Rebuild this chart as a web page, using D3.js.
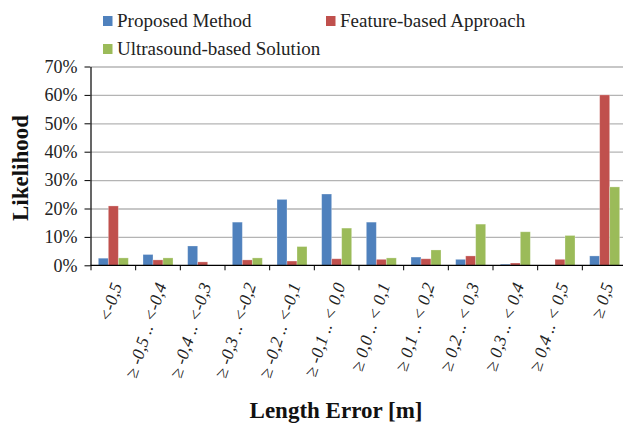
<!DOCTYPE html>
<html>
<head>
<meta charset="utf-8">
<script src="https://cdn.jsdelivr.net/npm/d3@7"></script>
<style>
  html, body { margin: 0; padding: 0; background: #fff; }
  svg text { font-family: "Liberation Serif", "DejaVu Serif", serif; }
</style>
</head>
<body>
<svg id="chart" width="623" height="425"></svg>
<script>
const FONT = "Liberation Serif, DejaVu Serif, serif";

// Error bins (metres)
const categories = [
  "<-0,5",
  "≥ -0,5 .. <-0,4",
  "≥ -0,4 .. <-0,3",
  "≥ -0,3 .. <-0,2",
  "≥ -0,2 .. <-0,1",
  "≥ -0,1 .. < 0,0",
  "≥ 0,0 .. < 0,1",
  "≥ 0,1 .. < 0,2",
  "≥ 0,2 .. < 0,3",
  "≥ 0,3 .. < 0,4",
  "≥ 0,4 .. < 0,5",
  "≥ 0,5"
];

const seriesNames = ["Proposed Method", "Feature-based Approach", "Ultrasound-based Solution"];
const seriesColors = ["#4F81BD", "#C0504D", "#9BBB59"];

// Likelihood per bin, in percent
const proposed   = [2.5, 3.8, 6.8, 15.2, 23.2, 25.1, 15.2, 2.9, 2.1, 0.4, 0, 3.3];
const feature    = [20.9, 1.9, 1.2, 1.9, 1.5, 2.3, 2.1, 2.3, 3.3, 0.8, 2.1, 60.0];
const ultrasound = [2.6, 2.6, 0, 2.6, 6.6, 13.1, 2.6, 5.4, 14.5, 11.8, 10.5, 27.6];

const yTicks = [0, 10, 20, 30, 40, 50, 60, 70];

const seriesValues = [proposed, feature, ultrasound];

const svg = d3.select("#chart").attr("font-family", FONT);

const plot = { left: 91, right: 627, top: 66.5, bottom: 265.3 };

const x0 = d3.scaleBand()
  .domain(categories)
  .range([plot.left, plot.right])
  .paddingInner(0)
  .paddingOuter(0);

const x1 = d3.scaleBand()
  .domain(seriesNames)
  .range([0, x0.bandwidth()])
  .paddingInner(0)
  .paddingOuter(0.733);

const y = d3.scaleLinear()
  .domain([0, 70])
  .range([plot.bottom, plot.top]);

// Horizontal gridlines
svg.append("g")
  .attr("transform", `translate(${plot.left},0)`)
  .call(d3.axisLeft(y).tickValues(yTicks.slice(1)).tickSize(-(plot.right - plot.left)).tickFormat(""))
  .call(g => g.select(".domain").remove())
  .call(g => g.selectAll("line").attr("stroke", "#b4b4b4").attr("stroke-width", 1.3));

// Bars
const rows = categories.map((c, i) => ({ cat: c, vals: seriesNames.map((s, k) => ({ s, k, v: seriesValues[k][i] })) }));

svg.append("g").selectAll("g")
  .data(rows)
  .join("g")
  .attr("transform", d => `translate(${x0(d.cat)},0)`)
  .selectAll("rect")
  .data(d => d.vals.filter(e => e.v > 0))
  .join("rect")
  .attr("x", d => x1(d.s))
  .attr("width", x1.bandwidth())
  .attr("y", d => y(d.v))
  .attr("height", d => y(0) - y(d.v))
  .attr("fill", d => seriesColors[d.k])
  .attr("stroke", "rgba(255,255,255,0.35)")
  .attr("stroke-width", 0.8);

// Y axis
const yAxis = svg.append("g")
  .attr("transform", `translate(${plot.left - 0.5},0)`)
  .call(d3.axisLeft(y).tickValues(yTicks).tickSize(6).tickSizeOuter(0).tickPadding(7).tickFormat(d => d + "%"));
yAxis.attr("font-family", FONT).attr("font-size", 18);
yAxis.select(".domain").attr("stroke", "#000").attr("stroke-width", 1.2);
yAxis.selectAll(".tick line").attr("stroke", "#000");
yAxis.selectAll("text")
  .attr("font-family", FONT)
  .attr("font-size", 18)
  .attr("fill", "#222");

// X axis line and tick marks at bin boundaries
const xAxis = svg.append("g").attr("font-family", FONT);
xAxis.append("line")
  .attr("x1", plot.left - 0.5).attr("x2", plot.right)
  .attr("y1", y(0)).attr("y2", y(0))
  .attr("stroke", "#000").attr("stroke-width", 1.2);
xAxis.selectAll("line.tick")
  .data(categories)
  .join("line")
  .attr("class", "tick")
  .attr("x1", d => x0(d)).attr("x2", d => x0(d))
  .attr("y1", y(0)).attr("y2", y(0) + 5)
  .attr("stroke", "#000");

// Rotated bin labels
xAxis.selectAll("text")
  .data(categories)
  .join("text")
  .attr("transform", d => `translate(${x0(d) + x0.bandwidth() / 2 + 3},${y(0) + 18}) rotate(-72)`)
  .attr("text-anchor", "end")
  .attr("dy", "0.35em")
  .attr("font-family", FONT)
  .attr("font-size", 17.5)
  .attr("font-style", "italic")
  .attr("fill", "#222")
  .text(d => d);

// Axis titles
svg.append("text")
  .attr("x", 336).attr("y", 418)
  .attr("text-anchor", "middle")
  .attr("font-family", FONT)
  .attr("font-size", 23)
  .attr("font-weight", "bold")
  .attr("fill", "#111")
  .text("Length Error [m]");

svg.append("text")
  .attr("transform", "translate(28,168) rotate(-90)")
  .attr("text-anchor", "middle")
  .attr("font-family", FONT)
  .attr("font-size", 23)
  .attr("font-weight", "bold")
  .attr("fill", "#111")
  .text("Likelihood");

// Legend
const legendPos = [[103, 16], [326, 16], [103, 44]];
const legend = svg.append("g").selectAll("g")
  .data(seriesNames)
  .join("g")
  .attr("transform", (d, i) => `translate(${legendPos[i][0]},${legendPos[i][1]})`);
legend.append("rect")
  .attr("width", 9.5).attr("height", 10)
  .attr("fill", (d, i) => seriesColors[i]);
legend.append("text")
  .attr("x", 14).attr("y", 10.5)
  .attr("font-family", FONT)
  .attr("font-size", 19)
  .attr("fill", "#222")
  .text(d => d);
</script>
</body>
</html>
